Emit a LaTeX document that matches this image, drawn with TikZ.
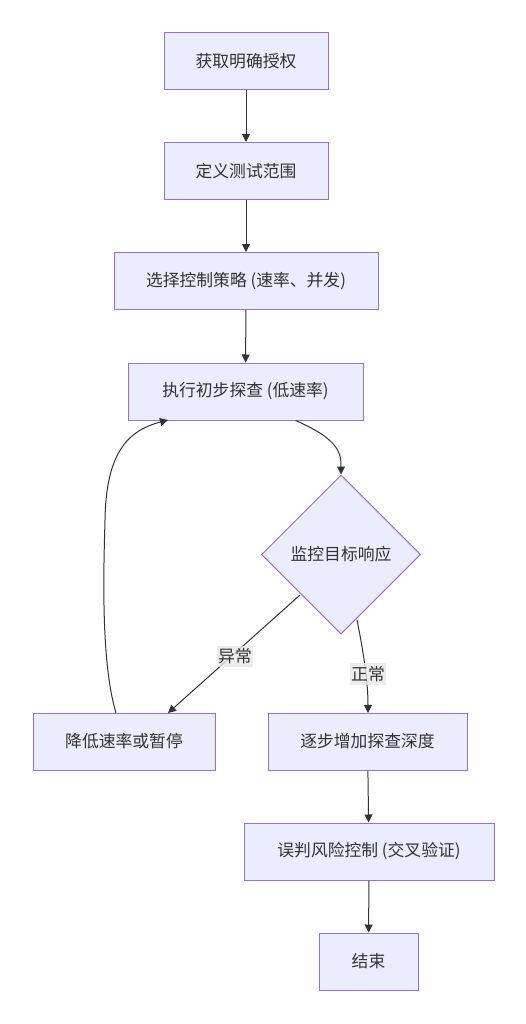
\documentclass[tikz,border=0pt]{standalone}
\usepackage{fontspec}
\setmainfont{Noto Sans CJK SC}
\usetikzlibrary{shapes.geometric,arrows.meta}
\definecolor{nodefill}{HTML}{ECECFF}
\definecolor{nodeline}{HTML}{9370DB}
\definecolor{edgecol}{HTML}{333333}
\definecolor{lblbg}{HTML}{E8E8E8}
\begin{document}
\begin{tikzpicture}[x=1pt,y=-1pt,
  box/.style={draw=nodeline,fill=nodefill,line width=1pt,minimum height=57pt,inner sep=0pt,text=edgecol,font=\fontsize{16.8}{18}\selectfont},
  dec/.style={draw=nodeline,fill=nodefill,line width=1pt,diamond,minimum width=159pt,minimum height=159pt,inner sep=0pt,text=edgecol,font=\fontsize{16.8}{18}\selectfont},
  edge/.style={draw=edgecol,line width=1pt,-{Triangle[length=8pt,width=8pt]}},
  lbl/.style={fill=lblbg,fill opacity=0.8,text opacity=1,text=edgecol,inner xsep=1.5pt,inner ysep=3pt,font=\fontsize{16.8}{18}\selectfont}
]
\useasboundingbox (0,0) rectangle (526,1024);
\node[box,minimum width=164pt] (n1) at (246,61) {获取明确授权};
\node[box,minimum width=164pt] (n2) at (246,171) {定义测试范围};
\node[box,minimum width=264pt] (n3) at (246,281) {选择控制策略 (速率、并发)};
\node[box,minimum width=235pt] (n4) at (245.5,391.5) {执行初步探查 (低速率)};
\node[dec] (n5) at (341,554.5) {监控目标响应};
\node[box,minimum width=182pt] (n6) at (124,741.5) {降低速率或暂停};
\node[box,minimum width=199pt] (n7) at (367.5,741.5) {逐步增加探查深度};
\node[box,minimum width=250pt] (n8) at (369,851.5) {误判风险控制 (交叉验证)};
\node[box,minimum width=99pt] (n9) at (368.5,961.5) {结束};
\draw[edge] (n1) -- (n2);
\draw[edge] (n2) -- (n3);
\draw[edge] (n3) -- (n4);
\draw[edge] ([xshift=50pt]n4.south) .. controls (341,440) and (341,455) .. (n5.north);
\draw[edge] (300,595) -- (168,713);
\draw[edge] (357,620) .. controls (363,650) and (368,680) .. (368,713);
\draw[edge] (116,713) .. controls (100,660) and (104,560) .. (105,520) .. controls (106,450) and (130,430) .. (168,420);
\node[lbl] (l1) at (235,656.5) {异常};
\node[lbl] (l2) at (368,674) {正常};
\draw[edge] (n7) -- (n8);
\draw[edge] (n8) -- (n9);
\end{tikzpicture}
\end{document}
